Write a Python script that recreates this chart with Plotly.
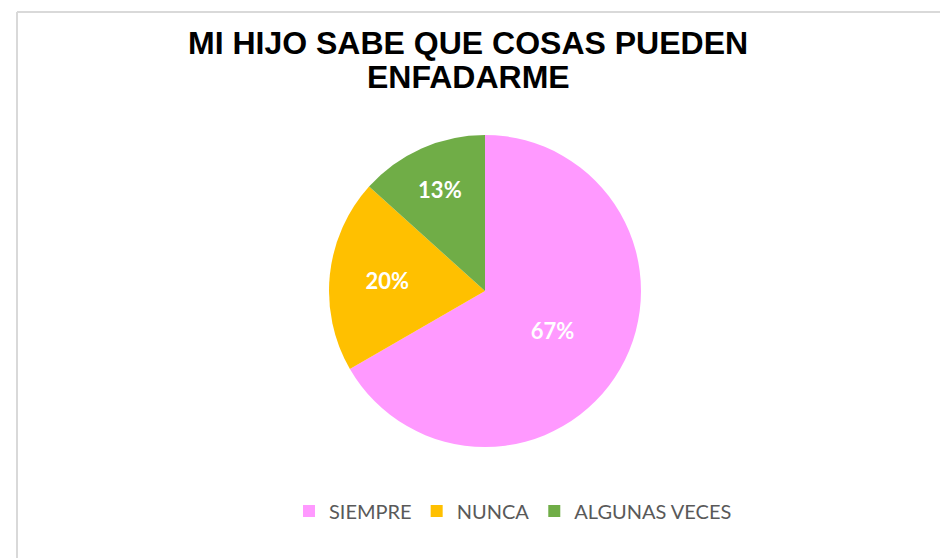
import plotly.graph_objects as go

W, H = 948, 558

categories = ["SIEMPRE", "NUNCA", "ALGUNAS VECES"]
counts = [10, 3, 2]
colors = ["#FF99FF", "#FFC000", "#70AD47"]
title_lines = ["MI HIJO SABE QUE COSAS PUEDEN", "ENFADARME"]

def px_x(x):
    return x / W

def px_y(y):
    return 1 - y / H

cx, cy, d = 477, 283, 312

fig = go.Figure()
fig.add_trace(go.Pie(
    labels=categories,
    values=counts,
    sort=False,
    direction="clockwise",
    rotation=0,
    marker=dict(colors=colors, line=dict(width=0)),
    texttemplate="%{percent:.0%}",
    textposition="inside",
    insidetextorientation="horizontal",
    textfont=dict(family="Lato, Open Sans, sans-serif", size=22, color="white", weight="bold"),
    domain=dict(x=[px_x(cx - d / 2), px_x(cx + d / 2)], y=[px_y(cy + d / 2), px_y(cy - d / 2)]),
    hoverinfo="label+percent",
))

title_ys = [35, 69]
annotations = [
    dict(text=line, x=px_x(460), y=px_y(yy), xref="paper", yref="paper",
         xanchor="center", yanchor="middle", showarrow=False,
         font=dict(family="Liberation Sans, Arial, sans-serif", size=32, color="black", weight="bold"))
    for line, yy in zip(title_lines, title_ys)
]

fig.update_layout(
    width=W, height=H,
    margin=dict(l=0, r=0, t=0, b=0),
    paper_bgcolor="white",
    plot_bgcolor="white",
    showlegend=True,
    legend=dict(
        orientation="h",
        x=px_x(505), xanchor="center",
        y=px_y(503), yanchor="middle",
        font=dict(family="Lato, Open Sans, sans-serif", size=20, color="#595959"),
        itemwidth=30,
        traceorder="normal",
    ),
    annotations=annotations,
    shapes=[
        dict(type="line", xref="paper", yref="paper", x0=px_x(9), y0=0, x1=px_x(9), y1=px_y(4),
             line=dict(color="#D9D9D9", width=2)),
        dict(type="line", xref="paper", yref="paper", x0=px_x(9), y0=px_y(4), x1=1, y1=px_y(4),
             line=dict(color="#D9D9D9", width=2)),
    ],
)

fig.write_html("out.html")
